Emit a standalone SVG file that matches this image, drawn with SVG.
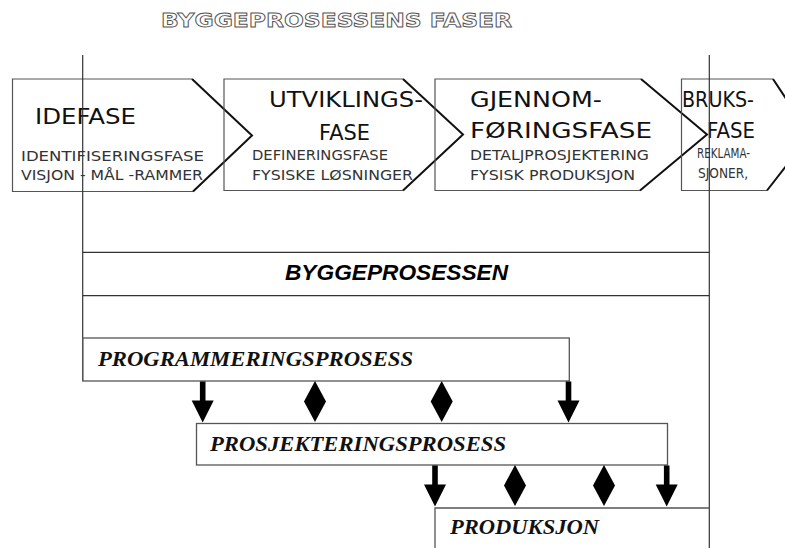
<svg xmlns="http://www.w3.org/2000/svg" xmlns:xlink="http://www.w3.org/1999/xlink" width="785" height="548" viewBox="0 0 785 548">
  <style>
    .edge { fill: none; stroke: #555; stroke-width: 1.2; }
    .chev { fill: none; stroke: #111; stroke-width: 2; stroke-linejoin: miter; }
    .rule { fill: none; stroke: #333; stroke-width: 1.2; }
    .box { fill: none; stroke: #555; stroke-width: 1.3; }
    .phase { font-family: "DejaVu Sans", "Liberation Sans", sans-serif; font-size: 22px; fill: #111; }
    .sub { font-family: "DejaVu Sans", "Liberation Sans", sans-serif; font-size: 14px; fill: #333; }
    .title { font-family: "DejaVu Sans", "Liberation Sans", sans-serif; font-size: 20px; font-weight: bold; fill: #fff; stroke: #555; stroke-width: 0.9; }
    .main { font-family: "Liberation Sans", Arial, sans-serif; font-size: 22px; font-weight: bold; font-style: italic; fill: #000; }
    .proc { font-family: "Liberation Serif", "Times New Roman", serif; font-size: 21px; font-weight: bold; font-style: italic; fill: #111; }
    .mark { fill: #000; }
  </style>
  <defs>
    <!-- downward arrow, origin at top of shaft, tip at y=41 -->
    <path id="arrow" d="M-2.8,0 H2.8 V19 H11 L0,41 L-11,19 H-2.8 Z"/>
    <!-- diamond, origin at top point, bottom point at y=41 -->
    <path id="diamond" d="M0,0 L11,20.5 L0,41 L-11,20.5 Z"/>
  </defs>

  <!-- heading -->
  <text class="title" x="161" y="27" textLength="351" lengthAdjust="spacingAndGlyphs">BYGGEPROSESSENS  FASER</text>

  <!-- phase chevrons -->
  <g id="idefase">
    <path class="edge" d="M192,79 H12.5 V191.5 H193"/>
    <path class="chev" d="M192,79 L252,135.5 L193,191.5"/>
    <text class="phase" x="35" y="124" textLength="101" lengthAdjust="spacingAndGlyphs">IDEFASE</text>
    <text class="sub" x="21" y="160.5" textLength="183" lengthAdjust="spacingAndGlyphs">IDENTIFISERINGSFASE</text>
    <text class="sub" x="21" y="179.5" textLength="182" lengthAdjust="spacingAndGlyphs">VISJON - MÅL -RAMMER</text>
  </g>

  <g id="utviklingsfase">
    <path class="edge" d="M403,79 H224 V190.5 H403"/>
    <path class="chev" d="M403,79 L463,134.5 L403,190.5"/>
    <text class="phase" x="269" y="106.5" textLength="154" lengthAdjust="spacingAndGlyphs">UTVIKLINGS-</text>
    <text class="phase" x="319" y="140" textLength="51" lengthAdjust="spacingAndGlyphs">FASE</text>
    <text class="sub" x="252" y="159.5" textLength="136" lengthAdjust="spacingAndGlyphs">DEFINERINGSFASE</text>
    <text class="sub" x="252" y="179.5" textLength="161" lengthAdjust="spacingAndGlyphs">FYSISKE LØSNINGER</text>
  </g>

  <g id="gjennomforingsfase">
    <path class="edge" d="M641,79 H435 V190.5 H640"/>
    <path class="chev" d="M641,79 L707,134.5 L640,190.5"/>
    <text class="phase" x="470" y="106.5" textLength="132" lengthAdjust="spacingAndGlyphs">GJENNOM-</text>
    <text class="phase" x="470" y="137.5" textLength="182" lengthAdjust="spacingAndGlyphs">FØRINGSFASE</text>
    <text class="sub" x="470" y="160" textLength="179" lengthAdjust="spacingAndGlyphs">DETALJPROSJEKTERING</text>
    <text class="sub" x="470" y="180" textLength="165" lengthAdjust="spacingAndGlyphs">FYSISK PRODUKSJON</text>
  </g>

  <g id="bruksfase">
    <path class="edge" d="M773,79 H681.5 V190.5 H767"/>
    <path class="chev" d="M773,79 L810,135 L767,190.5"/>
    <text class="phase" x="682" y="106.5" textLength="72" lengthAdjust="spacingAndGlyphs">BRUKS-</text>
    <text class="phase" x="707" y="138" textLength="48" lengthAdjust="spacingAndGlyphs">FASE</text>
    <text class="sub" x="697" y="157.5" textLength="53" lengthAdjust="spacingAndGlyphs">REKLAMA-</text>
    <text class="sub" x="698" y="178" textLength="50" lengthAdjust="spacingAndGlyphs">SJONER,</text>
  </g>

  <!-- building process band -->
  <g id="byggeprosessen">
    <line class="rule" x1="82.7" y1="55" x2="82.7" y2="381"/>
    <line class="rule" x1="709.3" y1="55" x2="709.3" y2="548"/>
    <line class="rule" x1="82.7" y1="252.3" x2="709.3" y2="252.3"/>
    <line class="rule" x1="82.7" y1="295.7" x2="709.3" y2="295.7"/>
    <text class="main" x="285" y="280" textLength="223" lengthAdjust="spacingAndGlyphs">BYGGEPROSESSEN</text>
  </g>

  <!-- sub-processes -->
  <g id="programmering">
    <rect class="box" x="82.7" y="338" width="486.6" height="43"/>
    <text class="proc" x="98" y="365.5" textLength="315" lengthAdjust="spacingAndGlyphs">PROGRAMMERINGSPROSESS</text>
  </g>

  <g id="prosjektering">
    <rect class="box" x="196.5" y="423.5" width="471" height="41.5"/>
    <text class="proc" x="210" y="451" textLength="296" lengthAdjust="spacingAndGlyphs">PROSJEKTERINGSPROSESS</text>
  </g>

  <g id="produksjon">
    <path class="box" d="M435,548 V508 H709.3"/>
    <text class="proc" x="450" y="533.5" textLength="149" lengthAdjust="spacingAndGlyphs">PRODUKSJON</text>
  </g>

  <!-- links between processes -->
  <g id="connectors" class="mark">
    <use xlink:href="#arrow" x="202.7" y="381.5"/>
    <use xlink:href="#diamond" x="315" y="381"/>
    <use xlink:href="#diamond" x="441.7" y="381"/>
    <use xlink:href="#arrow" x="568.5" y="381.5"/>

    <use xlink:href="#arrow" x="435" y="465.5"/>
    <use xlink:href="#diamond" x="515" y="465"/>
    <use xlink:href="#diamond" x="604" y="465"/>
    <use xlink:href="#arrow" x="666.7" y="465.5"/>
  </g>
</svg>
